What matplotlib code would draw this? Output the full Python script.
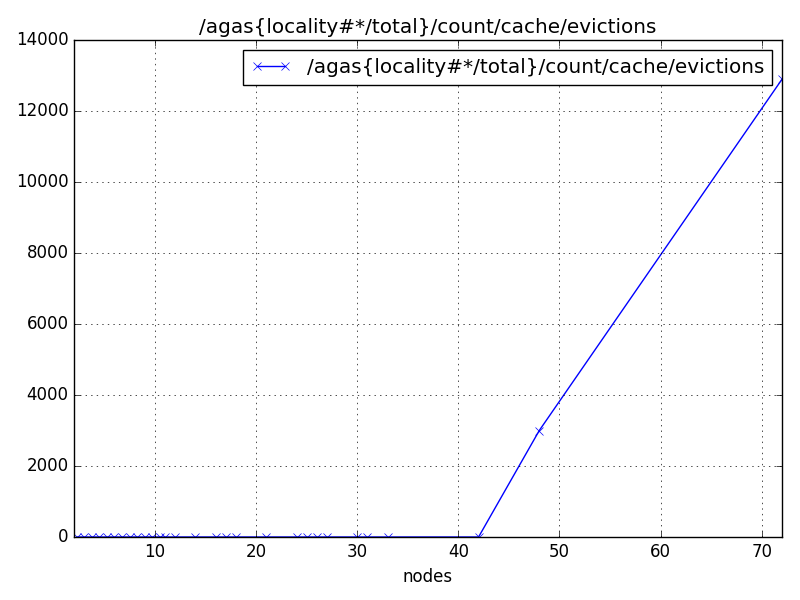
import matplotlib
matplotlib.use("Agg")
import matplotlib.pyplot as plt

plt.style.use("classic")

title = "/agas{locality#*/total}/count/cache/evictions"

# nodes
nodes = [2.3, 3.0, 3.75, 4.5, 5.25, 6.0, 6.75, 7.5, 8.25, 9.0, 9.75, 10.5,
         11, 12, 14, 16, 17, 18, 21, 24, 25, 26, 27, 30, 31, 33, 42, 48, 72]
evictions = [0] * 26 + [0, 3000, 12900]

fig = plt.figure(figsize=(8, 6), dpi=100)
ax = fig.add_subplot(111)
ax.plot(nodes, evictions, color="b", marker="x", label=title)

ax.set_xlim(2, 72)
ax.set_ylim(0, 14000)
ax.set_title(title)
ax.set_xlabel("nodes")
ax.grid(True)
ax.legend(loc="upper right")

fig.subplots_adjust(left=0.0925, right=0.9775, top=0.933, bottom=0.105)
fig.savefig("out.png", dpi=100)
